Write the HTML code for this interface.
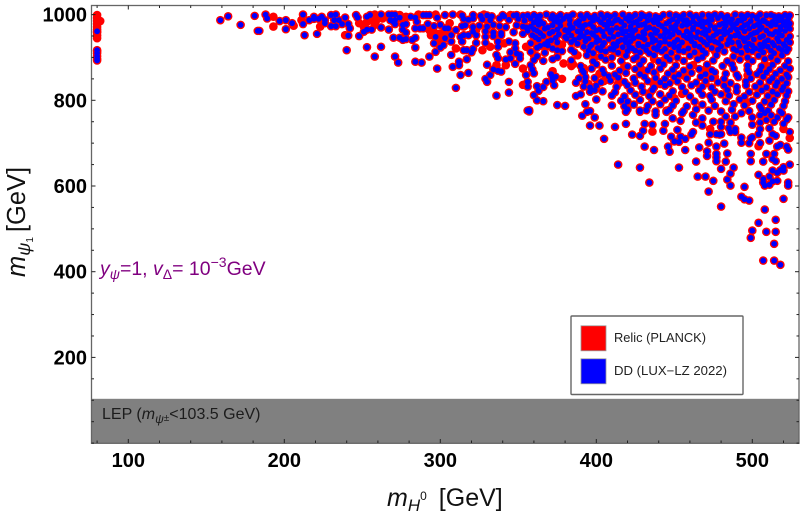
<!DOCTYPE html>
<html>
<head>
<meta charset="utf-8">
<title>Relic and DD scatter</title>
<style>
html,body{margin:0;padding:0;background:#fff;}
svg{display:block;font-family:"Liberation Sans",sans-serif;}
</style>
</head>
<body>
<svg id="chart" width="800" height="514" viewBox="0 0 800 514">
  <rect x="91.5" y="398.8" width="707.5" height="44.5" fill="#808080"/>
  <g id="points"></g>
  <rect x="91.5" y="5.5" width="707.5" height="437.8" fill="none" stroke="#666" stroke-width="1.3"/>
  <g id="ticks"></g>
  <g id="labels" font-weight="bold" font-size="20" fill="#000"></g>

  <text x="387" y="506" font-size="25" fill="#111"><tspan font-style="italic">m</tspan><tspan font-style="italic" font-size="17" dy="5">H</tspan><tspan font-size="12" dy="-11">0</tspan><tspan dy="6" dx="12">[GeV]</tspan></text>
  <text transform="translate(25,277) rotate(-90)" font-size="25.5" fill="#111"><tspan font-style="italic">m</tspan><tspan font-style="italic" font-size="18" dy="5">ψ</tspan><tspan font-size="10" dy="3">1</tspan><tspan dy="-8" dx="5">[GeV]</tspan></text>

  <text x="100" y="275" font-size="19.5" fill="#800080"><tspan font-style="italic">y</tspan><tspan font-style="italic" font-size="14" dy="4">ψ</tspan><tspan dy="-4">=1, </tspan><tspan font-style="italic">v</tspan><tspan font-size="14" dy="4">Δ</tspan><tspan dy="-4">= 10</tspan><tspan font-size="14" dy="-8">−3</tspan><tspan dy="8">GeV</tspan></text>

  <text x="102" y="419" font-size="16" fill="#1c1c1c">LEP (<tspan font-style="italic">m</tspan><tspan font-style="italic" font-size="12" dy="4">ψ</tspan><tspan font-size="10" dy="-2">±</tspan><tspan dy="-2">&lt;103.5 GeV)</tspan></text>

  <g>
    <rect x="571" y="316" width="172" height="78.5" rx="1" fill="#fff" stroke="#666" stroke-width="1.4"/>
    <rect x="581" y="325.8" width="25" height="25" fill="#f00" stroke="#999" stroke-width="0.8"/>
    <text x="614" y="342" font-size="12.7" fill="#222" textLength="92" lengthAdjust="spacingAndGlyphs">Relic (PLANCK)</text>
    <rect x="581" y="358.8" width="25" height="25" fill="#00f" stroke="#999" stroke-width="0.8"/>
    <text x="614" y="375" font-size="12.7" fill="#222" textLength="113" lengthAdjust="spacingAndGlyphs">DD (LUX−LZ 2022)</text>
  </g>
</svg>
<script>
const xTickLabels = [100, 200, 300, 400, 500];
const yTickLabels = [200, 400, 600, 800, 1000];
const xMinorTicks = [80,120,140,160,180,220,240,260,280,320,340,360,380,420,440,460,480,520];
const yMinorTicks = [0,50,100,150,250,300,350,450,500,550,650,700,750,850,900,950];

/* points passing only the relic constraint: [mH0, mPsi1] */
const relicOnlyPoints = [
[80,999],[80,992],[80,985],[80,978],[80,971],[80,965],[80,958],[80,951],[80,945],[82,985],[80,914],
[193,995],[193,972],[206,974],[211,987],[223,972],[239,952],[253,983],[251,972],[258,1000],[248,980],[256,987],[258,976],[297,956],[300,956],[299,941],[310,921],[327,917],[332,925],[336,882],[342,882],[353,874],[353,836],[355,925],[341,933],[274,999],[278,995],[286,1000],[297,1000],[313,1000],[328,1000],[345,999],[263,991],[259,987],[276,987],[293,964],[294,952],[304,956],[306,980],[315,972],[323,964],[331,983],
[381,972],[426,956],[454,938],[399,901],[379,886],[384,880],[430,870],[443,893],[470,872],[472,930],[456,968],[417,910],[392,875],[385,884],[402,862],[436,842],[450,805],[441,838],[435,820],[375,902],[404,935],[500,920],[489,948],[462,882],[445,776],[497,795],[512,800],
[436,727],[473,733],[504,693],[520,733],[524,712],
[361,936],[368,925],[378,930],[388,905],[394,918],[411,946],[429,917],[447,942],[452,925],[458,930],[467,908],[476,915],[481,922],[494,935],[503,912],[515,905],[521,926],[429,890],[437,897],[418,880],[405,845],[438,858],[456,858],[476,855],[497,858],[508,885],[360,905],[372,868],[378,850],[395,838],[414,838],[455,815],[470,840]
];

/* points passing relic and DD constraints: [mH0, mPsi1] */
const ddPoints = [
[80,961],[80,917],[80,910],[80,903],[80,897],[80,893],
[159,987],[164,996],[172,976],[181,997],[183,962],[184,962],
[188,1000],[189,991],[197,985],[201,987],[201,966],[205,980],[212,1000],[212,978],[213,952],[216,987],[219,995],[219,990],[221,955],[222,990],[224,995],[226,987],[226,980],[230,999],[230,973],[233,1000],[233,973],[232,987],[235,987],[237,978],[239,993],[241,978],[242,968],[241,951],[240,917],[246,999],[247,993],[248,950],[251,960],[253,965],[256,965],[253,995],[255,999],[253,924],[258,902],[262,925],[262,970],[262,1000],[267,1000],[269,1000],[271,1000],[267,965],[268,987],[271,987],[271,978],[270,983],[274,993],[270,946],[274,946],[276,941],[278,943],[278,958],[282,941],[284,946],[284,923],[276,976],[278,978],[276,965],[281,995],[284,993],[285,983],[289,999],[291,999],[293,999],[289,968],[287,968],[284,968],[292,978],[296,973],[300,976],[303,968],[305,968],[298,993],[303,999],[308,1000],[297,948],[303,945],[307,952],[307,937],[296,933],[302,929],[300,923],[297,913],[293,902],[284,890],[288,888],[271,902],[273,888],[298,874],[308,878],[312,890],[312,882],[313,859],[318,864],[310,829],[307,906],[317,896],[320,912],[321,920],[323,934],[314,937],[313,948],[315,952],[310,964],[318,952],[323,952],[329,934],[329,948],[334,950],[337,937],[337,925],[339,952],[315,917],[317,917],[330,883],[336,906],[337,898],[334,872],[337,869],[339,867],[332,859],[329,850],[330,843],[344,843],[336,811],[344,818],[356,776],[355,859],[356,843],[356,832],[348,885],[342,895],[345,898],[345,912],[348,933],[348,921],[349,909],[351,906],[351,898],[344,937],
[314,998],[321,999],[326,997],[330,998],[333,996],[340,999],[341,996],[347,998],[349,999],[353,997],[356,998],
[315,990],[318,988],[321,991],[327,989],[332,987],[338,991],[344,988],[350,990],[354,986],
[314,973],[316,975],[321,971],[325,974],[330,972],[334,976],[338,973],[342,971],[349,975],[353,972],[355,970],
[321,960],[329,961],[334,958],[339,957],[347,959],[353,955],[356,962],
/* dense band, read row by row */
[360,999],[364,997],[368,1000],[372,998],[377,999],[381,996],[385,1000],[390,998],[394,999],[399,997],[403,1000],[407,998],[412,999],[417,1000],[421,997],[425,999],[429,1000],[434,998],[438,996],[443,999],[447,1000],[451,998],[456,999],[460,1000],[464,997],[468,999],[472,998],[476,1000],[480,999],[484,996],[489,1000],[493,998],[497,999],[500,997],[505,1000],[509,998],[512,999],[517,996],[521,999],[524,998],
[358,991],[362,988],[371,992],[379,990],[383,987],[392,991],[401,989],[405,992],[414,988],[419,991],[428,990],[436,987],[441,992],[449,989],[454,991],[458,987],[466,990],[474,988],[478,992],[487,989],[491,986],[495,991],[503,990],[507,987],[515,991],[519,988],[523,990],
[360,981],[366,979],[375,983],[387,980],[396,978],[403,982],[410,979],[416,983],[424,981],[431,978],[437,982],[445,979],[452,983],[460,980],[464,978],[470,982],[481,979],[485,983],[490,980],[497,978],[505,982],[510,979],[513,983],[520,981],[524,979],
[358,972],[369,970],[377,974],[385,969],[391,973],[398,971],[407,974],[413,969],[422,972],[427,975],[434,970],[442,973],[448,971],[455,974],[462,969],[468,972],[476,970],[483,974],[488,971],[493,969],[501,973],[506,970],[512,974],[518,971],[523,973],
[362,962],[372,960],[380,964],[388,961],[394,959],[400,963],[404,960],[410,964],[419,961],[425,964],[430,959],[439,962],[446,960],[451,964],[458,961],[465,959],[472,963],[479,960],[486,964],[495,961],[503,959],[509,963],[515,960],[521,962],
[359,952],[366,950],[376,954],[384,951],[392,949],[398,953],[405,950],[414,954],[421,951],[427,949],[435,953],[441,950],[449,954],[456,951],[461,949],[470,953],[475,950],[482,954],[489,951],[492,949],[499,953],[507,950],[513,954],[519,951],[524,949],
[363,942],[371,940],[381,944],[386,941],[395,944],[402,940],[408,943],[416,941],[424,945],[431,942],[438,940],[444,944],[452,941],[459,945],[467,942],[473,940],[480,944],[485,941],[494,945],[501,942],[510,940],[516,944],[522,941],
[358,933],[367,931],[375,935],[388,932],[397,930],[405,934],[411,931],[419,935],[427,932],[433,930],[441,934],[447,931],[455,935],[463,932],[471,930],[478,934],[484,931],[491,935],[498,932],[505,930],[513,934],[520,931],
[362,923],[372,921],[392,925],[401,922],[409,920],[417,924],[423,921],[430,925],[437,922],[444,920],[450,924],[459,921],[466,925],[474,922],[488,920],[496,924],[502,921],[510,925],[517,922],[523,920],
[358,913],[367,911],[378,915],[386,912],[398,910],[406,914],[414,911],[420,915],[428,912],[434,910],[442,914],[448,911],[456,915],[463,912],[470,910],[482,914],[493,911],[500,915],[507,912],[514,910],[522,914],
[362,903],[375,901],[394,905],[403,902],[410,900],[419,904],[426,901],[437,905],[445,902],[452,900],[460,904],[468,901],[477,905],[488,902],[497,900],[504,904],[512,901],[519,905],
[360,894],[366,892],[372,896],[384,893],[398,891],[406,895],[416,892],[424,896],[430,893],[440,891],[447,895],[456,892],[465,896],[475,893],[484,891],[492,895],[500,892],[508,896],[516,893],[523,891],
[358,882],[390,880],[400,884],[410,881],[420,879],[428,883],[435,880],[443,884],[451,881],[460,879],[471,883],[481,880],[487,884],[497,881],[506,879],[513,883],[521,880],
[359,872],[391,870],[397,874],[404,871],[415,869],[425,873],[433,870],[441,874],[449,871],[456,869],[466,873],[474,870],[488,874],[497,871],[505,869],[511,873],[518,870],[524,874],
[360,863],[371,861],[392,865],[405,862],[412,860],[419,864],[428,861],[437,865],[446,862],[453,860],[461,864],[470,861],[476,865],[483,862],[490,860],[498,864],[503,861],[509,865],[515,862],[522,860],
[372,853],[374,855],[389,851],[393,854],[399,852],[408,856],[414,853],[424,851],[431,855],[438,852],[444,850],[450,854],[458,851],[467,855],[474,852],[482,850],[491,854],[499,851],[507,855],[513,852],[519,850],[523,854],
[368,843],[372,846],[387,841],[393,844],[403,842],[409,846],[418,843],[425,841],[433,845],[441,842],[447,840],[452,844],[464,841],[470,845],[478,842],[486,840],[496,844],[505,841],[511,845],[516,842],[522,840],
[362,833],[366,831],[373,835],[392,832],[396,830],[400,834],[413,831],[420,835],[429,832],[437,830],[444,834],[455,831],[461,835],[468,832],[474,830],[482,834],[490,831],[496,835],[502,832],[509,830],[515,834],[520,831],
[363,822],[396,820],[399,824],[404,821],[412,819],[422,823],[430,820],[436,824],[449,821],[457,819],[466,823],[476,820],[484,824],[490,821],[498,819],[506,823],[513,820],[519,824],[523,821],
[360,812],[387,810],[390,814],[410,811],[418,809],[425,813],[434,810],[441,814],[447,811],[460,809],[468,813],[473,810],[480,814],[485,811],[495,809],[503,813],[510,810],[516,814],[522,811],
[362,800],[366,798],[400,802],[416,799],[420,797],[428,801],[436,798],[444,802],[451,799],[463,797],[474,801],[483,798],[492,802],[500,799],[508,797],[514,801],[521,798],
[375,789],[380,787],[393,791],[410,788],[418,786],[424,790],[433,787],[441,791],[449,788],[458,786],[468,790],[476,787],[488,791],[495,788],[505,786],[512,790],[520,787],
[357,777],[396,775],[420,779],[428,776],[438,774],[447,778],[456,775],[464,779],[472,776],[480,774],[487,778],[498,775],[506,779],[510,776],[518,774],[508,770],[512,765],[516,760],[519,770],[522,755],[514,750],[520,745],[505,765],[523,760],[493,770],[500,760],[489,762],
/* second pass over the dense band */
[362,995],[375,994],[383,996],[396,993],[409,995],[423,994],[431,996],[440,993],[453,995],[462,994],[474,996],[482,993],[495,995],[503,994],[514,996],[519,994],
[364,985],[373,986],[377,984],[389,985],[398,986],[408,984],[412,986],[421,985],[426,984],[433,986],[439,985],[447,984],[456,986],[462,984],[468,985],[472,986],[483,984],[493,986],[499,985],[508,984],[517,986],[522,984],
[363,976],[372,975],[383,977],[389,975],[393,976],[405,977],[418,975],[429,976],[440,977],[451,975],[458,976],[466,977],[473,975],[479,976],[487,977],[495,975],[503,976],[515,977],[521,975],
[360,966],[367,967],[375,965],[383,966],[391,967],[402,965],[407,967],[416,966],[422,965],[432,967],[437,966],[444,965],[449,967],[462,966],[470,965],[476,967],[482,966],[490,965],[498,967],[505,966],[518,965],[524,967],
[364,957],[370,956],[382,958],[390,956],[397,957],[409,958],[417,956],[423,957],[431,955],[438,957],[444,956],[453,958],[460,956],[468,957],[477,955],[484,958],[491,956],[501,957],[511,955],[517,957],
[361,947],[374,946],[380,948],[389,946],[400,947],[411,948],[419,946],[429,947],[436,945],[447,948],[458,946],[464,947],[472,945],[486,948],[497,946],[505,947],[516,945],
[369,937],[384,936],[393,938],[400,936],[414,937],[422,938],[436,936],[444,937],[450,935],[461,938],[469,936],[476,937],[487,935],[495,938],[508,936],[517,937],[524,935],
[364,927],[369,928],[396,926],[404,928],[413,927],[421,926],[427,928],[440,927],[453,926],[463,928],[480,926],[492,927],[500,928],[507,926],[514,928],[521,927],
[375,917],[384,918],[395,916],[403,917],[411,918],[425,916],[432,917],[439,918],[453,916],[468,917],[478,918],[490,916],[497,917],[505,918],[512,916],[519,917],
/* sparse lower region */
[357,774],[391,764],[394,773],[399,760],[396,741],[402,741],[412,738],[405,710],[419,745],[423,720],[428,717],[430,729],[431,745],[436,743],[431,692],[437,684],[446,692],[447,680],[457,684],[414,650],[428,643],[453,643],[434,608],[464,657],[465,622],[470,622],[475,612],[472,587],[480,552],[480,640],[483,657],[486,629],[484,615],[486,601],[488,643],[495,598],[493,575],[495,569],[498,566],[508,545],[515,521],[504,514],[500,496],[509,493],[515,493],[499,479],[514,465],[507,426],[514,426],[518,416],[520,570],[504,626],[507,616],[507,608],[508,601],[511,603],[511,622],[513,636],[513,611],[516,612],[516,631],[518,637],[520,644],[520,636],[524,650],[523,608],[523,601],[499,675],[499,658],[507,657],[509,675],[514,675],[513,663],[515,658],[493,701],[498,700],[505,700],[511,706],[516,692],[518,696],[522,692],[523,685],[524,726],[493,713],[499,711],[500,714],[504,721],[505,733],[505,748],[500,743],[513,721],[515,717],[511,735],[509,754],[477,675],[477,667],[477,658],[471,681],[471,670],[466,690],[472,701],[477,692],[482,699],[484,676],[473,721],[477,721],[479,720],[480,721],[475,750],[480,750],[480,738],[485,735],[486,726],[489,733],[489,726],[486,748],[483,762],[464,748],[468,758],[468,741],[462,726],[461,720],[457,710],[453,703],[450,704],[448,715],[454,715],[452,731],[443,729],[444,745],[454,752],[449,758],[438,766],[445,773],[455,770],[462,766],[428,773],[419,773],[432,777]
];

const X0 = 128.3, XS = 1.56, Y0 = 443.1, YS = 0.4285;
function xScale(v){ return X0 + (v - 100) * XS; }
function yScale(v){ return Y0 - v * YS; }
const NS = "http://www.w3.org/2000/svg";

const pointsLayer = document.getElementById("points");
function dot(p, r, fill, name){
  const c = document.createElementNS(NS, "circle");
  c.setAttribute("cx", xScale(p[0]));
  c.setAttribute("cy", yScale(p[1]));
  c.setAttribute("r", r);
  c.setAttribute("fill", fill);
  
  
  pointsLayer.appendChild(c);
}
relicOnlyPoints.forEach(function(p){ dot(p, 4.3, "#f00", "relic-point"); });
ddPoints.forEach(function(p){ dot(p, 4.3, "#f00", "relic-point"); });
ddPoints.forEach(function(p){ dot(p, 2.9, "#00f", "dd-point"); });

const tickLayer = document.getElementById("ticks");
function tick(x1, y1, x2, y2, name){
  const l = document.createElementNS(NS, "line");
  l.setAttribute("x1", x1);
  l.setAttribute("y1", y1);
  l.setAttribute("x2", x2);
  l.setAttribute("y2", y2);
  l.setAttribute("stroke", "#222");
  l.setAttribute("stroke-width", "1");
  
  
  tickLayer.appendChild(l);
}
function xTick(v, len, name){
  const x = xScale(v);
  tick(x, 443, x, 443 - len, name);
  tick(x, 5.5, x, 5.5 + len, name);
}
function yTick(v, len, name){
  const y = yScale(v);
  tick(91.5, y, 91.5 + len, y, name);
  tick(799, y, 799 - len, y, name);
}
xTickLabels.forEach(function(v){ xTick(v, 4, "x-major-tick"); });
xMinorTicks.forEach(function(v){ xTick(v, 2.5, "x-minor-tick"); });
yTickLabels.forEach(function(v){ yTick(v, 4, "y-major-tick"); });
yMinorTicks.forEach(function(v){ yTick(v, 2.5, "y-minor-tick"); });

const labelLayer = document.getElementById("labels");
xTickLabels.forEach(function(v){
  const t = document.createElementNS(NS, "text");
  t.setAttribute("x", xScale(v));
  t.setAttribute("y", 467);
  t.setAttribute("text-anchor", "middle");
  
  
  t.textContent = v;
  labelLayer.appendChild(t);
});
yTickLabels.forEach(function(v){
  const t = document.createElementNS(NS, "text");
  t.setAttribute("x", 87);
  t.setAttribute("y", yScale(v) + 7);
  t.setAttribute("text-anchor", "end");
  
  
  t.textContent = v;
  labelLayer.appendChild(t);
});
</script>
</body>
</html>
